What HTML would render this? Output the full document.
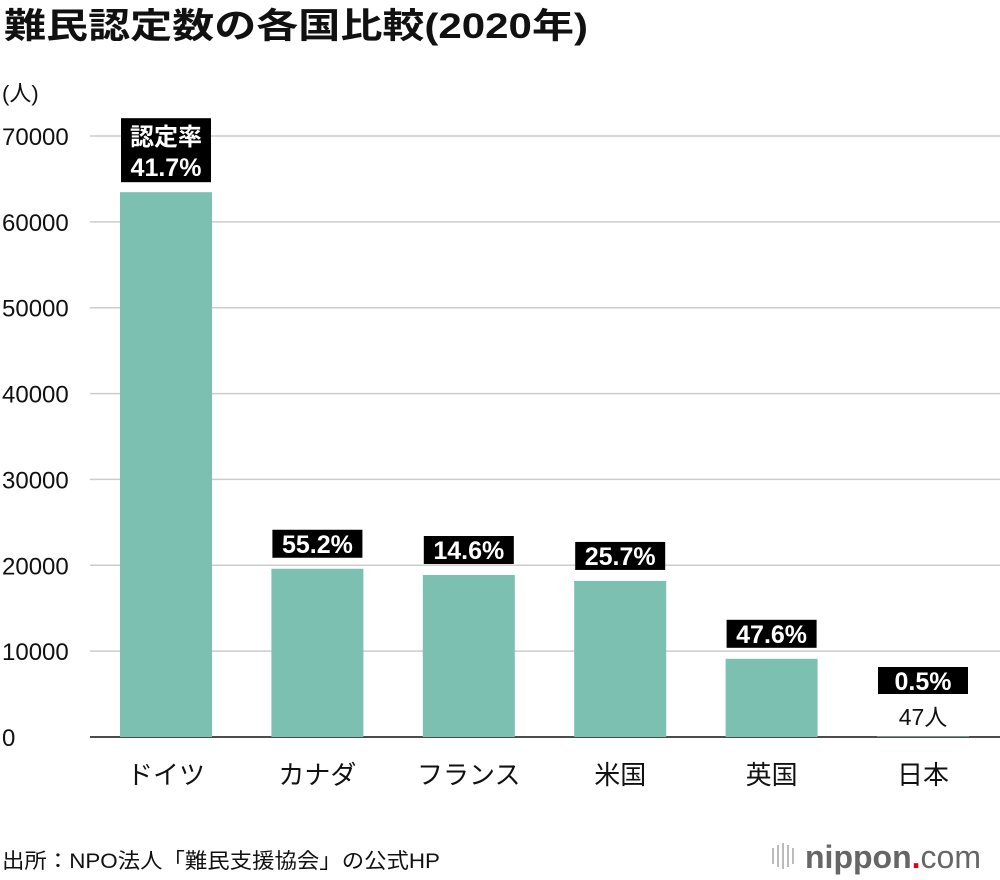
<!DOCTYPE html>
<html><head><meta charset="utf-8">
<style>
html,body{margin:0;padding:0;background:#fff;}
body{width:1000px;height:880px;position:relative;overflow:hidden;font-family:"Liberation Sans","Noto Sans CJK JP",sans-serif;}
</style></head>
<body>
<svg id="chart" width="1000" height="880" xmlns="http://www.w3.org/2000/svg" style="position:absolute;left:0;top:0;font-family:'Liberation Sans','Noto Sans CJK JP',sans-serif;">
<text x="4" y="38" font-size="35" font-weight="bold" fill="#111" textLength="584" lengthAdjust="spacingAndGlyphs">難民認定数の各国比較(2020年)</text>
<text x="2" y="101" font-size="22" fill="#111">(人)</text>
<g id="grid"></g><g id="bars"></g>
<text x="2" y="868" font-size="21" fill="#111" textLength="438" lengthAdjust="spacingAndGlyphs">出所：NPO法人「難民支援協会」の公式HP</text>
<g>
<g fill="#bbb"><rect x="772" y="848" width="2" height="16"/><rect x="777" y="845" width="2" height="22"/><rect x="782" y="843" width="2" height="26"/><rect x="787" y="845" width="2" height="22"/><rect x="792" y="848" width="2" height="16"/></g>
<text x="805" y="868" font-size="32" font-weight="bold" fill="#666">nippon<tspan fill="#e60012">.</tspan><tspan font-weight="normal">com</tspan></text>
</g>
</svg>
<script>
const categories=["ドイツ","カナダ","フランス","米国","英国","日本"];
const values=[63456,19596,18868,18177,9108,47];
const rates=["41.7%","55.2%","14.6%","25.7%","47.6%","0.5%"];
const ticks=[0,10000,20000,30000,40000,50000,60000,70000];
const NS="http://www.w3.org/2000/svg";
const y0=737,y70=136,yMax=70000;
function yScale(v){return y0-(v/yMax)*(y0-y70);}
function xCenter(i){return 166+i*151.4;}
function mk(tag,attrs,parent,txt){const e=document.createElementNS(NS,tag);for(const k in attrs)e.setAttribute(k,attrs[k]);if(txt!==undefined)e.textContent=txt;parent.appendChild(e);return e;}
const grid=document.getElementById('grid'),bars=document.getElementById('bars');
ticks.forEach(t=>{
  const y=yScale(t);
  const l=mk('line',{x1:90,x2:1000,y1:y,y2:y,stroke:t===0?'#111':'#ccc','stroke-width':1.5},grid);
  
  
  const tx=mk('text',{x:2,y:y+9,'font-size':24,fill:'#111'},grid,String(t));
  
  
});
categories.forEach((c,i)=>{
  const cx=xCenter(i),w=92,top=yScale(values[i]);
  const r=mk('rect',{x:cx-w/2,y:top,width:w,height:y0-top,fill:'#7bc0b0'},bars);
  
  
  const lab=mk('text',{x:cx,y:784,'font-size':26,'text-anchor':'middle',fill:'#111'},bars,c);
  
  
  const g=mk('g',{},bars);
  
  
  if(i===0){
    const bb=top-10;
    mk('rect',{x:cx-45,y:bb-64,width:90,height:64,fill:'#000'},g);
    mk('text',{x:cx,y:bb-37,'font-size':24,'font-weight':'bold','text-anchor':'middle',fill:'#fff'},g,'認定率');
    mk('text',{x:cx,y:bb-6,'font-size':25,'font-weight':'bold','text-anchor':'middle',fill:'#fff'},g,rates[i]);
  } else if(values[i]<1000){
    mk('rect',{x:cx-45,y:667,width:90,height:27,fill:'#000'},g);
    mk('text',{x:cx,y:690,'font-size':25,'font-weight':'bold','text-anchor':'middle',fill:'#fff'},g,rates[i]);
    const v=mk('text',{x:cx,y:725,'font-size':23,'text-anchor':'middle',fill:'#111'},bars,values[i]+'人');
    
    
  } else {
    const bb=top-11;
    mk('rect',{x:cx-45,y:bb-28,width:90,height:28,fill:'#000'},g);
    mk('text',{x:cx,y:bb-5,'font-size':25,'font-weight':'bold','text-anchor':'middle',fill:'#fff'},g,rates[i]);
  }
});
</script>
</body></html>
